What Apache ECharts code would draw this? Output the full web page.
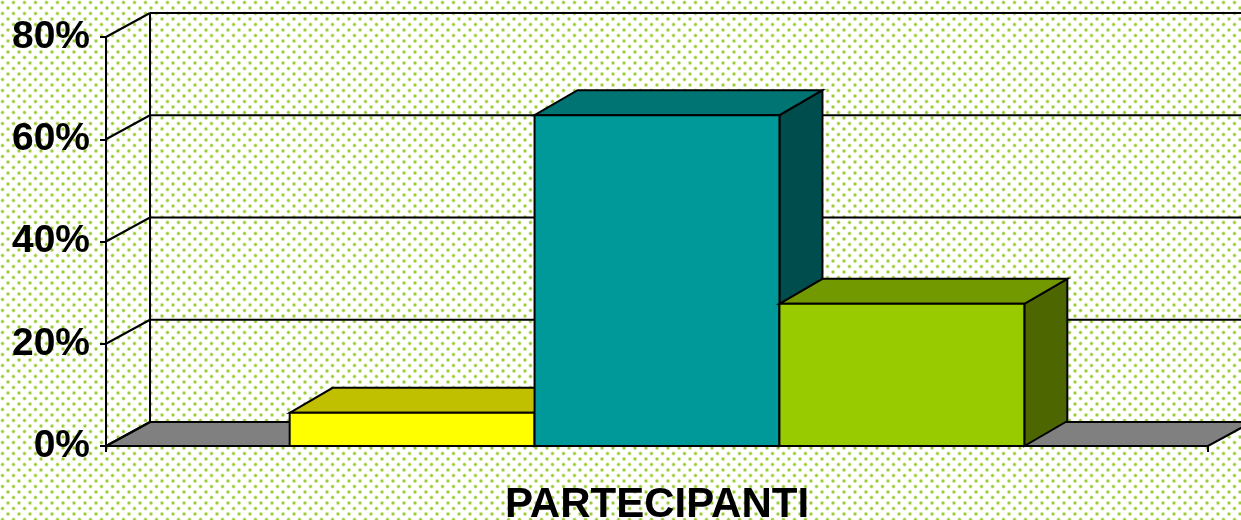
<!DOCTYPE html>
<html>
<head>
<meta charset="utf-8">
<script src="https://cdn.jsdelivr.net/npm/echarts@6/dist/echarts.min.js"></script>
<style>
  html, body { margin: 0; padding: 0; background: #fff; }
  #chart { width: 1241px; height: 520px; }
</style>
</head>
<body>
<div id="chart"></div>
<script>
// ---- data ----
const categories = ['PARTECIPANTI'];
const barNames = ['Serie 1', 'Serie 2', 'Serie 3'];
const values = [6.5, 64.7, 27.8];
const yTicks = [0, 20, 40, 60, 80];
const yTickLabels = ['0%', '20%', '40%', '60%', '80%'];

// ---- styles ----
const FONT = '"Liberation Sans", Arial, sans-serif';
const WALL_DX = 44, WALL_DY = -24;
const BAR_DX = 43, BAR_DY = -25;
const barColors = [
  { front: '#FFFF00', top: '#C0C000', side: '#808000' },
  { front: '#009999', top: '#007373', side: '#004D4D' },
  { front: '#99CC00', top: '#739900', side: '#4D6600' }
];

// dotted background pattern
(function () {
  const c = document.createElement('canvas');
  c.width = 11; c.height = 11;
  const g = c.getContext('2d');
  g.fillStyle = '#ffffff'; g.fillRect(0, 0, 11, 11);
  function dot(x, y) {
    g.fillStyle = '#cce699';
    g.beginPath(); g.arc(x, y, 2.0, 0, Math.PI * 2); g.fill();
    g.fillStyle = '#99cc33';
    g.beginPath(); g.arc(x, y, 1.2, 0, Math.PI * 2); g.fill();
  }
  dot(2.5, 2.5); dot(8, 8);
  document.getElementById('chart').style.background = 'url(' + c.toDataURL() + ') repeat';
})();

const chart = echarts.init(document.getElementById('chart'), null, { renderer: 'canvas' });

function renderWalls(params, api) {
  const cs = params.coordSys;
  const x0 = cs.x, x1 = cs.x + cs.width;
  const y0 = api.coord([0, yTicks[0]])[1];
  const yTop = api.coord([0, yTicks[yTicks.length - 1]])[1];
  const line = { stroke: '#000', lineWidth: 2, fill: null };
  const children = [];
  children.push({
    type: 'polygon',
    shape: { points: [[x0, y0], [x1, y0], [x1 + WALL_DX, y0 + WALL_DY], [x0 + WALL_DX, y0 + WALL_DY]] },
    style: { fill: '#808080', stroke: '#000', lineWidth: 2 }
  });
  yTicks.forEach(function (v) {
    const y = api.coord([0, v])[1];
    children.push({ type: 'line', shape: { x1: x0, y1: y, x2: x0 + WALL_DX, y2: y + WALL_DY }, style: line });
    if (v !== yTicks[0]) {
      children.push({ type: 'line', shape: { x1: x0 + WALL_DX, y1: y + WALL_DY, x2: x1 + WALL_DX, y2: y + WALL_DY }, style: line });
    }
  });
  children.push({ type: 'line', shape: { x1: x0 + WALL_DX, y1: y0 + WALL_DY, x2: x0 + WALL_DX, y2: yTop + WALL_DY }, style: line });
  return { type: 'group', children: children };
}

function renderBar(params, api) {
  const cs = params.coordSys;
  const i = params.dataIndex;
  const groupW = cs.width * 2 / 3;
  const barW = groupW / values.length;
  const l = cs.x + (cs.width - groupW) / 2 + i * barW;
  const r = l + barW;
  const top = api.coord([api.value(0), api.value(1)])[1];
  const base = api.coord([api.value(0), 0])[1];
  const col = barColors[i];
  const st = function (f) { return { fill: f, stroke: '#000', lineWidth: 2, lineJoin: 'miter' }; };
  return {
    type: 'group',
    children: [
      { type: 'polygon', shape: { points: [[r, top], [r + BAR_DX, top + BAR_DY], [r + BAR_DX, base + BAR_DY], [r, base]] }, style: st(col.side) },
      { type: 'polygon', shape: { points: [[l, top], [l + BAR_DX, top + BAR_DY], [r + BAR_DX, top + BAR_DY], [r, top]] }, style: st(col.top) },
      { type: 'rect', shape: { x: l, y: top, width: barW, height: base - top }, style: st(col.front) }
    ]
  };
}

const option = {
  backgroundColor: 'transparent',
  animation: false,
  grid: { left: 106, right: 33, top: 37, bottom: 74, containLabel: false, outerBoundsMode: 'none' },
  xAxis: {
    type: 'category',
    data: categories,
    boundaryGap: true,
    axisLine: { show: true, lineStyle: { color: '#000', width: 2 } },
    axisTick: { show: true, length: 6, lineStyle: { color: '#000', width: 2 } },
    axisLabel: { color: '#000', fontSize: 42, fontWeight: 'bold', fontFamily: FONT, margin: 38 },
    splitLine: { show: false }
  },
  yAxis: {
    type: 'value',
    min: yTicks[0],
    max: yTicks[yTicks.length - 1],
    interval: yTicks[1] - yTicks[0],
    axisLine: { show: true, lineStyle: { color: '#000', width: 2 } },
    axisTick: { show: true, length: 6, lineStyle: { color: '#000', width: 2 } },
    axisLabel: {
      color: '#000', fontSize: 39, fontWeight: 'bold', fontFamily: FONT, margin: 16,
      formatter: function (v) { return yTickLabels[yTicks.indexOf(v)]; }
    },
    splitLine: { show: false }
  },
  series: [
    {
      type: 'custom', name: 'walls', z: 1, silent: true,
      renderItem: renderWalls,
      encode: { x: 0, y: 1 },
      data: [[0, 0]]
    },
    {
      type: 'custom', name: 'bars', z: 2,
      renderItem: renderBar,
      encode: { x: 0, y: 1 },
      data: values.map(function (v, i) { return { name: barNames[i], value: [0, v] }; })
    }
  ]
};
chart.setOption(option);
</script>
</body>
</html>
